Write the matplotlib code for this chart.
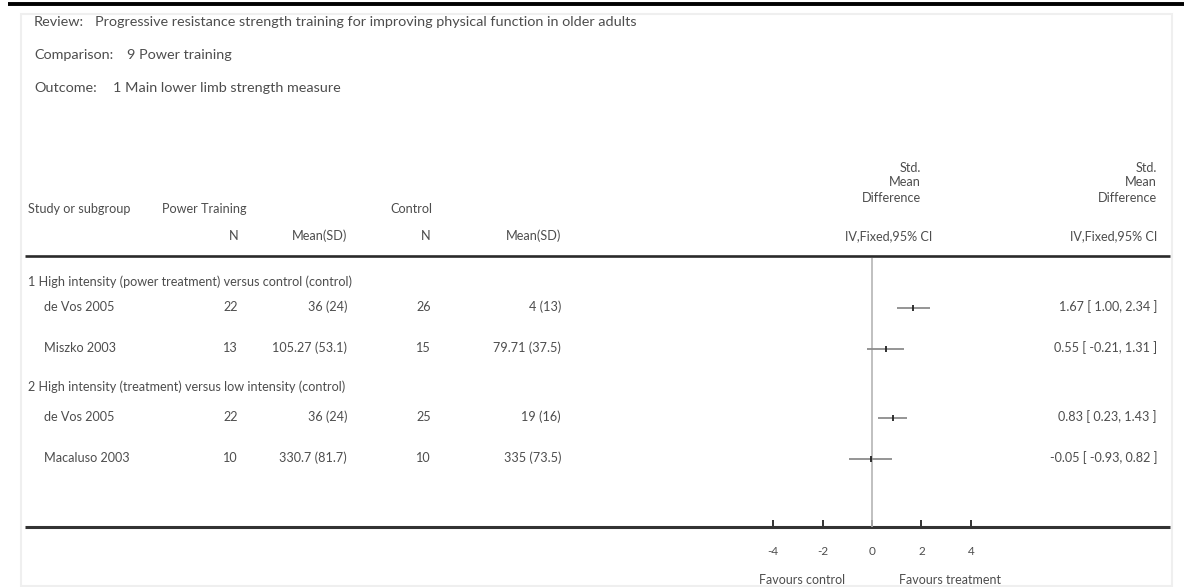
import matplotlib
matplotlib.use("Agg")
import matplotlib.pyplot as plt
from matplotlib.patches import Rectangle

# ---------------- data ----------------
review = "Progressive resistance strength training for improving physical function in older adults"
comparison = "9 Power training"
outcome = "1 Main lower limb strength measure"

subgroups = ["1 High intensity (power treatment) versus control (control)",
             "2 High intensity (treatment) versus low intensity (control)"]
studies = ["de Vos 2005", "Miszko 2003", "de Vos 2005", "Macaluso 2003"]
pt_n = [22, 13, 22, 10]
pt_mean_sd = ["36 (24)", "105.27 (53.1)", "36 (24)", "330.7 (81.7)"]
ctrl_n = [26, 15, 25, 10]
ctrl_mean_sd = ["4 (13)", "79.71 (37.5)", "19 (16)", "335 (73.5)"]
smd = [1.67, 0.55, 0.83, -0.05]
ci_low = [1.00, -0.21, 0.23, -0.93]
ci_high = [2.34, 1.31, 1.43, 0.82]
x_ticks = [-4, -2, 0, 2, 4]

# ---------------- layout ----------------
W, H = 1184, 587
FONT = "Lato"
TC = "#4d4d4d"
FS = 9.1

fig = plt.figure(figsize=(W / 100, H / 100), dpi=100)
fig.patch.set_facecolor("white")
ax = fig.add_axes([0, 0, 1, 1])
ax.set_xlim(0, W)
ax.set_ylim(H, 0)
ax.axis("off")

def t(x, y, s, ha="left", size=FS, color=TC):
    ax.text(x, y, s, ha=ha, va="center", fontsize=size, color=color, family=FONT)

# frame + top rule
ax.add_patch(Rectangle((21, 14), 1151, 572, fill=False, edgecolor="#efefef", lw=1.5))
ax.plot([8, W], [4, 4], color="black", lw=2.8, solid_capstyle="butt")

# header info
IFS = 10.4
t(34, 22, "Review:", size=IFS)
t(95, 22, review, size=IFS)
t(34, 55, "Comparison:", size=IFS)
t(127, 55, comparison, size=IFS)
t(34, 88, "Outcome:", size=IFS)
t(113, 88, outcome, size=IFS)

# column headers
t(28, 209, "Study or subgroup")
t(162, 209, "Power Training")
t(390, 209, "Control")
t(238, 236, "N", ha="right")
t(347, 236, "Mean(SD)", ha="right")
t(431, 236, "N", ha="right")
t(561, 236, "Mean(SD)", ha="right")
for xr in (921, 1157):
    t(xr, 168, "Std.", ha="right")
    t(xr, 182, "Mean", ha="right")
    t(xr, 198, "Difference", ha="right")
t(932, 236, "IV,Fixed,95% CI", ha="right")
t(1157, 236, "IV,Fixed,95% CI", ha="right")

# rules
ax.plot([25, 1170], [256, 256], color="#2a2a2a", lw=1.9, solid_capstyle="butt")
ax.plot([25, 1170], [527, 527], color="#333333", lw=2.2, solid_capstyle="butt")

# rows
heading_y = [282, 387]
row_y = [308, 349, 418, 459]
for s, y in zip(subgroups, heading_y):
    t(28, y, s)
for i, y in enumerate(row_y):
    ty = y - 1
    t(44, ty, studies[i])
    t(238, ty, str(pt_n[i]), ha="right")
    t(347, ty, pt_mean_sd[i], ha="right")
    t(431, ty, str(ctrl_n[i]), ha="right")
    t(561, ty, ctrl_mean_sd[i], ha="right")
    t(1157, ty, f"{smd[i]:.2f} [ {ci_low[i]:.2f}, {ci_high[i]:.2f} ]", ha="right")

# forest plot axes
zero_px, unit_px = 872, 24.7
xl = 5
left = (zero_px - xl * unit_px) / W
width = 2 * xl * unit_px / W
top_px, bot_px = 258, 527
fx = fig.add_axes([left, 1 - bot_px / H, width, (bot_px - top_px) / H])
fx.set_xlim(-xl, xl)
fx.set_ylim(bot_px, top_px)
fx.patch.set_alpha(0)
for sp in fx.spines.values():
    sp.set_visible(False)
fx.axvline(0, color="#b5b5b5", lw=1.2)
fx.hlines(row_y, ci_low, ci_high, color="#8c8c8c", lw=1.3)
fx.plot(smd, row_y, linestyle="none", marker="|", ms=4.5, mew=1.3, color="#222222")
fx.set_xticks(x_ticks)
fx.set_xticklabels([str(v) for v in x_ticks], family=FONT, fontsize=8.5, color=TC)
fx.tick_params(axis="x", direction="in", length=5, width=1.4, color="#333333", pad=14)
fx.set_yticks([])

t(802, 580, "Favours control", size=9, ha="center")
t(950, 580, "Favours treatment", size=9, ha="center")

fig.savefig("out.png", dpi=100, facecolor="white")
